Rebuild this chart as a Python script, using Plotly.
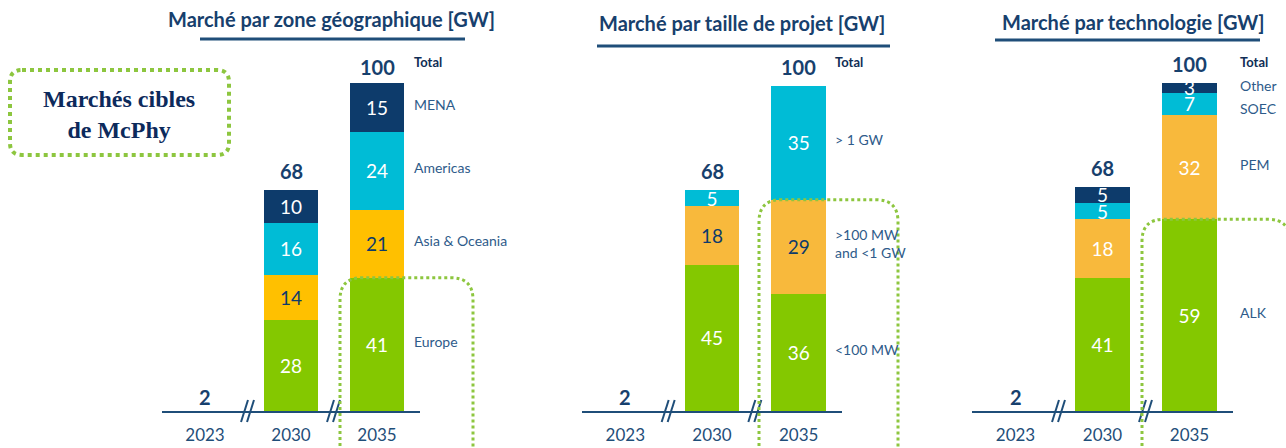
import plotly.graph_objects as go

W, H = 1286, 448

# ---------------- data ----------------
years = ["2023", "2030", "2035"]
bar_years = ["2030", "2035"]
totals = [2, 68, 100]

geo_names = ["Europe", "Asia & Oceania", "Americas", "MENA"]
geo_europe = [28, 41]
geo_asia = [14, 21]
geo_americas = [16, 24]
geo_mena = [10, 15]

size_names = ["<100 MW", ">100 MW<br>and <1 GW", "> 1 GW"]
size_small = [45, 36]
size_mid = [18, 29]
size_large = [5, 35]

tech_names = ["ALK", "PEM", "SOEC", "Other"]
tech_alk = [41, 59]
tech_pem = [18, 32]
tech_soec = [5, 7]
tech_other = [5, 3]

titles = ["Marché par zone géographique [GW]",
          "Marché par taille de projet [GW]",
          "Marché par technologie [GW]"]
box_text = "Marchés cibles<br>de McPhy"

# ---------------- style ----------------
GREEN = "#84c800"
YELLOW = "#ffc000"
ORANGE = "#f8b93c"
CYAN = "#00bcd6"
NAVY = "#0d3b6b"
AXIS = "#1f4e79"
TXT = "#17406d"
LBL = "#2e5b8a"
DOT = "#8dc63f"
WHITE = "#ffffff"
FONT = "Lato"

BASE_PX = 411.0
PX_PER_UNIT = 3.25
YMAX = BASE_PX / PX_PER_UNIT
Y0 = (H - BASE_PX) / H


def pxx(x):
    return x / W


def pxy(y):
    return 1 - y / H


def val_py(v):
    return Y0 + v / YMAX * (1 - Y0)


panels = [
    dict(dom=(162, 420), names=geo_names, values=[geo_europe, geo_asia, geo_americas, geo_mena],
         colors=[GREEN, YELLOW, CYAN, NAVY], tcolors=[WHITE, NAVY, WHITE, WHITE],
         lx=35, title_x=331, title_y=19, ul=(200, 465, 39), hl=(340, 473, 0), on_stack=False),
    dict(dom=(582, 842), names=size_names, values=[size_small, size_mid, size_large],
         colors=[GREEN, ORANGE, CYAN], tcolors=[WHITE, NAVY, WHITE],
         lx=34, title_x=742, title_y=23, ul=(597, 890, 46), hl=(759, 898, 1), on_stack=False),
    dict(dom=(972, 1233), names=tech_names, values=[tech_alk, tech_pem, tech_soec, tech_other],
         colors=[GREEN, ORANGE, CYAN, NAVY], tcolors=[WHITE, WHITE, WHITE, WHITE],
         lx=48, title_x=1133, title_y=22, ul=(995, 1260, 40), hl=(1142, 1290, 0), on_stack=True),
]
label_yshift = {"SOEC": -5, "Other": 2}

fig = go.Figure()
annotations = []
shapes = []

for i, p in enumerate(panels):
    sfx = "" if i == 0 else str(i + 1)
    xa, ya = "x" + sfx, "y" + sfx
    for name, vals, col, tcol in zip(p["names"], p["values"], p["colors"], p["tcolors"]):
        fig.add_trace(go.Bar(
            x=bar_years, y=vals, name=name.replace("<br>", " "), marker=dict(color=col, line=dict(width=0)),
            width=0.63, text=[str(v) for v in vals], textposition="inside",
            insidetextanchor="middle", textangle=0,
            textfont=dict(family=FONT, size=19, color=tcol),
            xaxis=xa, yaxis=ya, showlegend=False, hoverinfo="skip"))

    # axes
    lay_x = dict(domain=[pxx(p["dom"][0]), pxx(p["dom"][1])], anchor=ya, type="category",
                 categoryorder="array", categoryarray=years, range=[-0.5, 2.5],
                 showline=True, linecolor=AXIS, linewidth=2, showgrid=False, zeroline=False,
                 ticks="outside", ticklen=8, tickcolor="rgba(0,0,0,0)",
                 tickfont=dict(family=FONT, size=17, color=AXIS), fixedrange=True)
    lay_y = dict(domain=[Y0, 1], anchor=xa, range=[0, YMAX], showticklabels=False,
                 showgrid=False, zeroline=False, showline=False, ticks="", fixedrange=True)
    fig.update_layout({"xaxis" + sfx: lay_x, "yaxis" + sfx: lay_y})

    stack = [0] + [sum(v[j] for v in p["values"]) for j in range(len(bar_years))]
    i2035 = years.index("2035")
    # totals above bars
    for k, (yr, t) in enumerate(zip(years, totals)):
        first = (k == 0)
        yv = 0 if first else (max(t, stack[k]) if p["on_stack"] else t)
        annotations.append(dict(x=k, y=yv, xref=xa, yref=ya,
                                text="<b>%d</b>" % t, showarrow=False, yanchor="middle",
                                yshift=14 if first else 19,
                                font=dict(family=FONT, size=20, color=TXT)))
    # "Total" heading
    annotations.append(dict(x=i2035, y=totals[2], xref=xa, yref=ya, text="<b>Total</b>",
                            showarrow=False, xanchor="left", yanchor="middle",
                            xshift=p["lx"], yshift=24,
                            font=dict(family=FONT, size=13, color="#0f2e55")))
    # series labels to the right of the 2035 bar
    cum = 0
    for name, vals in zip(p["names"], p["values"]):
        mid = cum + vals[1] / 2
        cum += vals[1]
        annotations.append(dict(x=i2035, y=mid, xref=xa, yref=ya, text=name, showarrow=False,
                                xanchor="left", yanchor="middle", align="left",
                                xshift=p["lx"], yshift=label_yshift.get(name, 3),
                                font=dict(family=FONT, size=14, color=LBL)))
    # title + underline
    annotations.append(dict(x=pxx(p["title_x"]), y=pxy(p["title_y"]), xref="paper", yref="paper",
                            text="<b>%s</b>" % titles[i], showarrow=False,
                            xanchor="center", yanchor="middle",
                            font=dict(family=FONT, size=20, color=TXT)))
    u0, u1, uy = p["ul"]
    shapes.append(dict(type="line", xref="paper", yref="paper", x0=pxx(u0), x1=pxx(u1),
                       y0=pxy(uy), y1=pxy(uy), line=dict(color=AXIS, width=3)))
    # axis break marks
    for pos in (0.5, 1.5):
        for dx in (-3, 3):
            shapes.append(dict(type="line", xref=xa, yref="paper", xsizemode="pixel",
                               ysizemode="pixel", xanchor=pos, yanchor=Y0,
                               x0=dx - 4, x1=dx + 3, y0=-11, y1=11,
                               line=dict(color=AXIS, width=2)))
    # highlight dotted box around McPhy target segments (top at stacked value)
    l, r, k = p["hl"]
    top_v = sum(v[1] for v in p["values"][:k + 1])
    ty = val_py(top_v)
    by = pxy(470)
    rx, ry = 22 / W, 22 / H
    xl, xr = pxx(l), pxx(r)
    path = (f"M {xl},{by} L {xl},{ty - ry} Q {xl},{ty} {xl + rx},{ty} "
            f"L {xr - rx},{ty} Q {xr},{ty} {xr},{ty - ry} L {xr},{by}")
    shapes.append(dict(type="path", xref="paper", yref="paper", path=path,
                       line=dict(color=DOT, width=3, dash="dot"), layer="above"))

# "Marchés cibles de McPhy" box
bx0, bx1, by0, by1 = pxx(10), pxx(229), pxy(70), pxy(155)
rx, ry = 12 / W, 12 / H
path = (f"M {bx0 + rx},{by0} L {bx1 - rx},{by0} Q {bx1},{by0} {bx1},{by0 - ry} "
        f"L {bx1},{by1 + ry} Q {bx1},{by1} {bx1 - rx},{by1} L {bx0 + rx},{by1} "
        f"Q {bx0},{by1} {bx0},{by1 + ry} L {bx0},{by0 - ry} Q {bx0},{by0} {bx0 + rx},{by0} Z")
shapes.append(dict(type="path", xref="paper", yref="paper", path=path,
                   line=dict(color=DOT, width=4, dash="dot")))
annotations.append(dict(x=pxx(119), y=pxy(114), xref="paper", yref="paper", text="<b>%s</b>" % box_text,
                        showarrow=False, xanchor="center", yanchor="middle", align="center",
                        font=dict(family="Liberation Serif", size=24, color="#0c2a5c")))

fig.update_layout(
    width=W, height=H, autosize=False,
    margin=dict(l=0, r=0, t=0, b=0),
    paper_bgcolor="white", plot_bgcolor="white",
    barmode="stack", bargap=0.37,
    uniformtext=dict(minsize=19, mode="show"),
    annotations=annotations, shapes=shapes,
)

fig.write_html("out.html", config={"displayModeBar": False},
               post_script="document.body.style.margin='0';document.body.style.overflow='hidden';")
